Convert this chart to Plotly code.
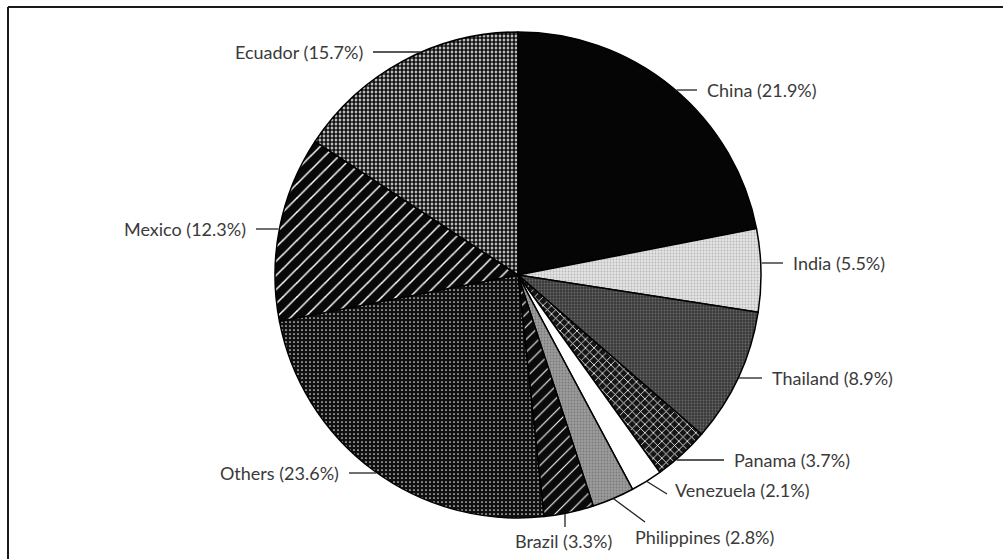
import math
import plotly.graph_objects as go

W, H = 1003, 559

countries = ["China", "India", "Thailand", "Panama", "Venezuela",
             "Philippines", "Brazil", "Others", "Mexico", "Ecuador"]
shares = [21.9, 5.5, 8.9, 3.7, 2.1, 2.8, 3.3, 23.6, 12.3, 15.7]

# styles
base_colors = ["#050505", "#e4e4e4", "#3a3a3a", "#151515", "#ffffff",
               "#9c9c9c", "#0a0a0a", "#101010", "#080808", "#ffffff"]
pat_shapes = ["", ".", ".", "x", "", ".", "/", ".", "/", "."]
pat_fg = ["#050505", "#b8b8b8", "#6a6a6a", "#ffffff", "#ffffff",
          "#7a7a7a", "#ffffff", "#e8e8e8", "#ffffff", "#111111"]
pat_size = [6, 3, 3, 6, 6, 3, 9, 4, 10, 4]
pat_sol = [0.3, 0.3, 0.3, 0.25, 0.3, 0.3, 0.12, 0.14, 0.15, 0.72]

# pie geometry (pixels)
CX, CY, R = 518, 275, 243

# label layout (pixels): anchor point of text, side, leader type
label_pos = [(705, 90), (791, 263), (770, 378), (732, 460), (673, 490),
             (633, 537), (563, 541), (341, 473), (248, 229), (365, 52)]
label_side = ["left", "left", "left", "left", "left",
              "left", "center", "right", "right", "right"]
leader_kind = ["h", "h", "h", "h", "d", "d", "v", "h", "h", "h"]
leader_end = [None, None, None, None, (667, 494), (645, 522), (565, 527),
              None, None, None]

def px2paper(x, y):
    return x / W, 1 - y / H

fig = go.Figure(go.Pie(
    labels=countries,
    values=shares,
    sort=False,
    direction="clockwise",
    rotation=0,
    textinfo="none",
    hoverinfo="label+percent",
    showlegend=False,
    domain=dict(x=[(CX - R) / W, (CX + R) / W],
                y=[1 - (CY + R) / H, 1 - (CY - R) / H]),
    marker=dict(
        colors=base_colors,
        line=dict(color="#000000", width=1.5),
        pattern=dict(shape=pat_shapes, fgcolor=pat_fg, bgcolor=base_colors,
                     size=pat_size, solidity=pat_sol, fillmode="replace"),
    ),
))

total = sum(shares)
shapes = []
annotations = []
cum = 0.0
for i, (name, v) in enumerate(zip(countries, shares)):
    mid = (cum + v / 2) / total * 2 * math.pi
    cum += v
    ex = CX + R * math.sin(mid)
    ey = CY - R * math.cos(mid)
    tx, ty = label_pos[i]
    side = label_side[i]
    kind = leader_kind[i]
    if kind == "h":
        dy = ty - CY
        dx = math.sqrt(max(R * R - dy * dy, 0))
        if side == "left":
            x0, x1 = CX + dx + 1, tx - 8
        else:
            x0, x1 = CX - dx - 1, tx + 8
        y0 = y1 = ty
    elif kind == "d":
        x0, y0 = ex, ey
        x1, y1 = leader_end[i]
    else:
        x1, y1 = leader_end[i]
        dx = x1 - CX
        x0 = x1
        y0 = CY + math.sqrt(R * R - dx * dx)
    p0 = px2paper(x0, y0)
    p1 = px2paper(x1, y1)
    shapes.append(dict(type="line", xref="paper", yref="paper",
                       x0=p0[0], y0=p0[1], x1=p1[0], y1=p1[1],
                       line=dict(color="#222222", width=1.3)))
    ax, ay = px2paper(tx, ty)
    annotations.append(dict(
        x=ax, y=ay, xref="paper", yref="paper",
        text=f"{name} ({v}%)", showarrow=False,
        xanchor=side, yanchor="middle",
        font=dict(family="Lato", size=18, color="#3a3a3a"),
    ))

# frame
fx0, fy0 = px2paper(8, 7)
shapes.append(dict(type="line", xref="paper", yref="paper",
                   x0=fx0, y0=fy0, x1=1.0, y1=fy0,
                   line=dict(color="#1a1a1a", width=2)))
shapes.append(dict(type="line", xref="paper", yref="paper",
                   x0=fx0, y0=fy0, x1=fx0, y1=0.0,
                   line=dict(color="#1a1a1a", width=2)))

fig.update_layout(
    width=W, height=H,
    margin=dict(l=0, r=0, t=0, b=0),
    paper_bgcolor="white",
    plot_bgcolor="white",
    shapes=shapes,
    annotations=annotations,
)

fig.write_html("out.html")
